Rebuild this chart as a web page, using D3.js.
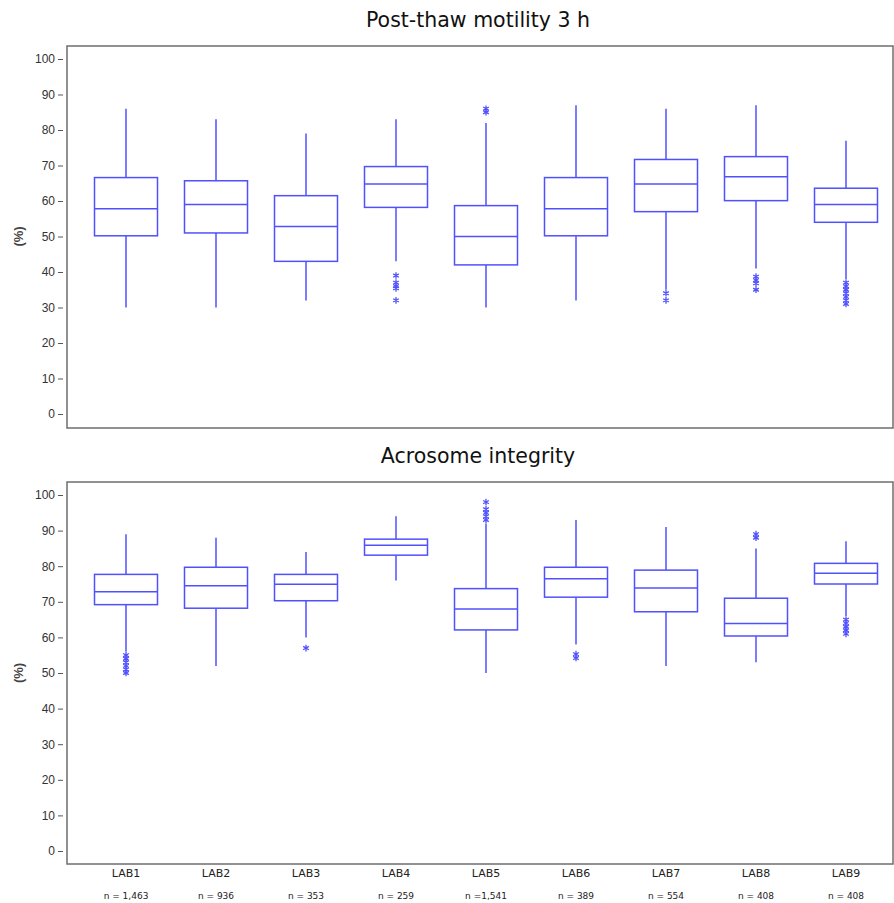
<!DOCTYPE html>
<html>
<head>
<meta charset="utf-8">
<script src="https://cdn.jsdelivr.net/npm/d3@7"></script>
<style>
  body { margin: 0; background: #fff; }
</style>
</head>
<body>
<svg id="chart" width="894" height="903"></svg>
<script>
// Data
const labs = ['LAB1', 'LAB2', 'LAB3', 'LAB4', 'LAB5', 'LAB6', 'LAB7', 'LAB8', 'LAB9']
const nLabels = ['n = 1,463', 'n = 936', 'n = 353', 'n = 259', 'n =1,541', 'n = 389', 'n = 554', 'n = 408', 'n = 408']
const yTicks = [0, 10, 20, 30, 40, 50, 60, 70, 80, 90, 100]

// [lower whisker, Q1, median, Q3, upper whisker]
const motilityStats = [
  [30, 50.2, 57.8, 66.6, 86],
  [30, 51, 59, 65.7, 83],
  [32, 43, 52.8, 61.5, 79],
  [43, 58.2, 64.8, 69.7, 83],
  [30, 42, 50, 58.7, 82],
  [32, 50.2, 57.8, 66.6, 87],
  [35, 57, 64.8, 71.7, 86],
  [41, 60.1, 66.8, 72.5, 87],
  [38, 54, 59, 63.6, 77]
]
const motilityOutliers = [
  [], [], [],
  [39, 37, 36, 35.4, 32],
  [86, 85],
  [],
  [34, 32],
  [38.7, 37.7, 36.8, 35],
  [37, 36, 35, 34, 33, 32, 31]
]

const acrosomeStats = [
  [56, 69.2, 72.8, 77.7, 89],
  [52, 68.2, 74.5, 79.7, 88],
  [60, 70.3, 74.9, 77.7, 84],
  [76, 83.1, 85.9, 87.6, 94],
  [50, 62.1, 68, 73.7, 92],
  [58, 71.3, 76.5, 79.7, 93],
  [52, 67.2, 73.9, 78.9, 91],
  [53, 60.4, 63.9, 71, 85],
  [66, 75, 78, 80.8, 87]
]
const acrosomeOutliers = [
  [55, 54, 53, 52, 51, 50],
  [],
  [57],
  [],
  [98, 96, 95, 94, 93],
  [55.3, 54.2],
  [],
  [89, 88],
  [65, 64, 63, 62, 61]
]

const svg = d3.select('#chart')
const boxColor = '#5050ff'
const frameLeft = 67
const frameRight = 893

const xScale = d3.scaleBand()
  .domain(labs)
  .range([81, 891])
  .padding(0)
const boxWidth = xScale.bandwidth() * 0.7
const xc = d => xScale(d) + xScale.bandwidth() / 2

const panels = [
  { title: 'Post-thaw motility 3 h', titleY: 27, top: 46, bottom: 428, y0: 414, y100: 59, stats: motilityStats, outliers: motilityOutliers },
  { title: 'Acrosome integrity', titleY: 463, top: 482, bottom: 864, y0: 851, y100: 495, stats: acrosomeStats, outliers: acrosomeOutliers }
]

const asterisk = d3.symbol().type(d3.symbolAsterisk || d3.symbolCross).size(30)

panels.forEach(p => {
  const yScale = d3.scaleLinear().domain([0, 100]).range([p.y0, p.y100])
  const g = svg.append('g')

  // Title
  g.append('text')
    .attr('x', 478)
    .attr('y', p.titleY)
    .attr('text-anchor', 'middle')
    .style('font-family', 'DejaVu Sans, Verdana, sans-serif')
    .style('font-size', '20.5px')
    .style('fill', '#111')
    .text(p.title)

  // Frame
  g.append('rect')
    .attr('x', frameLeft)
    .attr('y', p.top)
    .attr('width', frameRight - frameLeft)
    .attr('height', p.bottom - p.top)
    .attr('fill', 'none')
    .attr('stroke', '#6e6e6e')
    .attr('stroke-width', 1.5)

  // Y axis
  const yAxis = g.append('g')
    .attr('transform', `translate(${frameLeft - 4},0)`)
    .call(d3.axisLeft(yScale).tickValues(yTicks).tickSize(5).tickPadding(3))
  yAxis.select('.domain').remove()
  yAxis.selectAll('line').attr('stroke', '#555')
  yAxis.selectAll('text')
    .style('font-family', 'Liberation Sans, Arial, sans-serif')
    .style('font-size', '12px')
    .style('fill', '#333')

  g.append('text')
    .attr('transform', `translate(23,${(p.y0 + p.y100) / 2}) rotate(-90)`)
    .attr('text-anchor', 'middle')
    .style('font-family', 'Liberation Sans, Arial, sans-serif')
    .style('font-size', '13px')
    .style('font-weight', 'bold')
    .style('fill', '#444')
    .text('(%)')

  // Boxes
  const boxes = g.selectAll('g.box')
    .data(labs.map((lab, i) => ({ lab, s: p.stats[i], out: p.outliers[i] })))
    .join('g')
    .attr('class', 'box')
    .attr('stroke', boxColor)
    .attr('stroke-width', 1.5)
    .attr('fill', 'none')

  // whiskers
  boxes.append('line')
    .attr('x1', d => xc(d.lab)).attr('x2', d => xc(d.lab))
    .attr('y1', d => yScale(d.s[3])).attr('y2', d => yScale(d.s[4]))
  boxes.append('line')
    .attr('x1', d => xc(d.lab)).attr('x2', d => xc(d.lab))
    .attr('y1', d => yScale(d.s[1])).attr('y2', d => yScale(d.s[0]))

  boxes.append('rect')
    .attr('x', d => xc(d.lab) - boxWidth / 2)
    .attr('width', boxWidth)
    .attr('y', d => yScale(d.s[3]))
    .attr('height', d => yScale(d.s[1]) - yScale(d.s[3]))
    .attr('fill', '#fff')

  boxes.append('line')
    .attr('x1', d => xc(d.lab) - boxWidth / 2).attr('x2', d => xc(d.lab) + boxWidth / 2)
    .attr('y1', d => yScale(d.s[2])).attr('y2', d => yScale(d.s[2]))

  // outliers
  boxes.selectAll('path.out')
    .data(d => d.out.map(v => ({ lab: d.lab, v })))
    .join('path')
    .attr('class', 'out')
    .attr('d', asterisk)
    .attr('stroke-width', 1.3)
    .attr('transform', d => `translate(${xc(d.lab)},${yScale(d.v)})`)
})

// X labels under the lower panel
const xLab = svg.append('g')
xLab.selectAll('text.lab')
  .data(labs)
  .join('text')
  .attr('class', 'lab')
  .attr('x', d => xc(d))
  .attr('y', 877)
  .attr('text-anchor', 'middle')
  .style('font-family', 'DejaVu Sans, Verdana, sans-serif')
  .style('font-size', '11px')
  .style('fill', '#222')
  .text(d => d)

xLab.selectAll('text.n')
  .data(nLabels)
  .join('text')
  .attr('class', 'n')
  .attr('x', (d, i) => xc(labs[i]))
  .attr('y', 899)
  .attr('text-anchor', 'middle')
  .style('font-family', 'DejaVu Sans, Verdana, sans-serif')
  .style('font-size', '9px')
  .style('fill', '#222')
  .text(d => d)
</script>
</body>
</html>
